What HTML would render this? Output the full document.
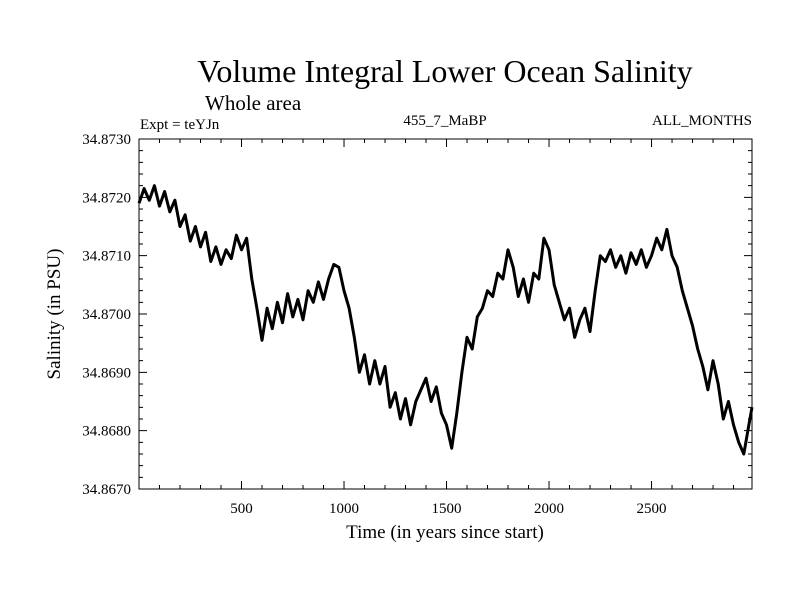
<!DOCTYPE html>
<html><head><meta charset="utf-8"><style>
body{margin:0;background:#fff}
svg{display:block;font-family:"Liberation Serif",serif}
</style></head><body>
<svg id="c" width="800" height="600">
<text x="445" y="82" font-size="32" text-anchor="middle">Volume Integral Lower Ocean Salinity</text>
<text x="205" y="110" font-size="21">Whole area</text>
<text x="140" y="129" font-size="15">Expt = teYJn</text>
<text x="445" y="125" font-size="15" text-anchor="middle">455_7_MaBP</text>
<text x="752" y="125" font-size="15" text-anchor="end">ALL_MONTHS</text>
<text x="445" y="538" font-size="19" text-anchor="middle">Time (in years since start)</text>
<text transform="translate(60,314) rotate(-90)" font-size="19" text-anchor="middle">Salinity (in PSU)</text>
<g id="ax"></g>
</svg>
<script>
const years=[];for(let i=0;i<=119;i++)years.push(i*25);years.push(2990);
const salinity=[34.87190,34.87215,34.87195,34.87220,34.87185,34.87210,34.87175,34.87195,34.87150,34.87170,34.87125,34.87150,34.87115,34.87140,34.87090,34.87115,34.87085,34.87110,34.87095,34.87135,34.87110,34.87130,34.87060,34.87010,34.86955,34.87010,34.86975,34.87020,34.86985,34.87035,34.86995,34.87025,34.86990,34.87040,34.87020,34.87055,34.87025,34.87060,34.87085,34.87080,34.87040,34.87010,34.86960,34.86900,34.86930,34.86880,34.86920,34.86880,34.86910,34.86840,34.86865,34.86820,34.86855,34.86810,34.86850,34.86870,34.86890,34.86850,34.86875,34.86830,34.86810,34.86770,34.86830,34.86900,34.86960,34.86940,34.86995,34.87010,34.87040,34.87030,34.87070,34.87060,34.87110,34.87080,34.87030,34.87060,34.87020,34.87070,34.87060,34.87130,34.87110,34.87050,34.87020,34.86990,34.87010,34.86960,34.86990,34.87010,34.86970,34.87040,34.87100,34.87090,34.87110,34.87080,34.87100,34.87070,34.87105,34.87085,34.87110,34.87080,34.87100,34.87130,34.87110,34.87145,34.87100,34.87080,34.87040,34.87010,34.86980,34.86940,34.86910,34.86870,34.86920,34.86880,34.86820,34.86850,34.86810,34.86780,34.86760,34.86810,34.86840];
const xTicks=[500,1000,1500,2000,2500];
const yTicks=[34.867,34.868,34.869,34.870,34.871,34.872,34.873];
const yLabels=["34.8670","34.8680","34.8690","34.8700","34.8710","34.8720","34.8730"];
const L=139,R=752,T=139,B=489,X0=0,X1=2990,Y0=34.867,Y1=34.873;
const sx=v=>L+(v-X0)/(X1-X0)*(R-L), sy=v=>B-(v-Y0)/(Y1-Y0)*(B-T);
const g=document.getElementById('ax'),NS='http://www.w3.org/2000/svg';
function mk(t,a){const e=document.createElementNS(NS,t);for(const k in a)e.setAttribute(k,a[k]);g.appendChild(e);return e;}
let d='';
for(let y=100;y<X1;y+=100){const x=sx(y),big=y%500===0?8:4;d+=`M${x},${B}v-${big}M${x},${T}v${big}`;}
for(let v=0;v<=30;v++){const y=sy(Y0+v*0.0002),big=v%5===0?8:4;d+=`M${L},${y}h${big}M${R},${y}h-${big}`;}
const tk=mk('path',{d:d,stroke:'#000','stroke-width':1,fill:'none'});


xTicks.forEach(v=>{const t=mk('text',{x:sx(v),y:513,'font-size':15,'text-anchor':'middle'});t.textContent=v;

});
yTicks.forEach((v,i)=>{const t=mk('text',{x:131,y:sy(v)+5,'font-size':15,'text-anchor':'end'});t.textContent=yLabels[i];

});
const pts=years.map((y,i)=>sx(y).toFixed(1)+','+sy(salinity[i]).toFixed(1)).join(' ');
const ln=mk('polyline',{points:pts,fill:'none',stroke:'#000','stroke-width':3,'stroke-linejoin':'round'});


const fr=mk('rect',{x:L,y:T,width:R-L,height:B-T,fill:'none',stroke:'#000','stroke-width':1});


</script>
</body></html>
